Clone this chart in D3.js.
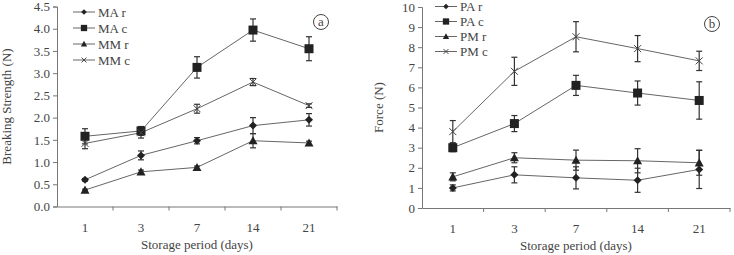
<!DOCTYPE html>
<html lang="en">
  <head>
    <meta charset="utf-8">
    <script src="https://d3js.org/d3.v7.min.js"></script>
    <style>
      body { margin: 0; background: #fff; }
      svg text { font-family: "Liberation Serif", "DejaVu Serif", serif; fill: #444; }
    </style>
  </head>
  <body>
    <svg id="chart" width="734" height="255"></svg>
    <script>
      // Storage days (categories)
      var days = ["1", "3", "7", "14", "21"];

      // Panel a: breaking strength
      var maR = [0.60, 1.15, 1.48, 1.82, 1.95];
      var maRErr = [0.03, 0.10, 0.07, 0.18, 0.14];
      var maC = [1.58, 1.70, 3.13, 3.97, 3.55];
      var maCErr = [0.17, 0.10, 0.24, 0.25, 0.27];
      var mmR = [0.37, 0.78, 0.88, 1.48, 1.43];
      var mmRErr = [0.02, 0.04, 0.03, 0.16, 0.04];
      var mmC = [1.42, 1.66, 2.20, 2.80, 2.27];
      var mmCErr = [0.12, 0.12, 0.10, 0.08, 0.04];
      var ticksA = [0, 0.5, 1, 1.5, 2, 2.5, 3, 3.5, 4, 4.5];

      // Panel b: force
      var paR = [1.00, 1.65, 1.50, 1.38, 1.92];
      var paRErr = [0.15, 0.40, 0.55, 0.60, 0.95];
      var paC = [3.00, 4.20, 6.10, 5.72, 5.35];
      var paCErr = [0.20, 0.40, 0.50, 0.60, 0.93];
      var pmR = [1.55, 2.50, 2.38, 2.35, 2.25];
      var pmRErr = [0.20, 0.25, 0.50, 0.60, 0.62];
      var pmC = [3.80, 6.80, 8.52, 7.93, 7.32];
      var pmCErr = [0.55, 0.70, 0.75, 0.65, 0.48];
      var ticksB = [0, 1, 2, 3, 4, 5, 6, 7, 8, 9, 10];

      var svg = d3.select("#chart");

      function drawPanel(p) {
        var g = svg.append("g");
        var x = d3.scaleBand().domain(days).range([p.x0, p.x1]);
        var y = d3.scaleLinear().domain([0, p.max]).range([p.y0, p.y1]);

        // lines and error bars first, markers on top
        p.series.forEach(function(s) {
          var pts = s.values.map(function(v, i) { return [x(days[i]) + x.bandwidth() / 2, y(v), s.err[i]]; });
          g.append("path")
            .attr("d", d3.line()(pts.map(function(d) { return [d[0], d[1]]; })))
            .attr("fill", "none").attr("stroke", "#666").attr("stroke-width", 1);
          pts.forEach(function(d, i) {
            var top = y(s.values[i] + d[2]), bot = y(s.values[i] - d[2]);
            g.append("line").attr("x1", d[0]).attr("x2", d[0]).attr("y1", top).attr("y2", bot)
              .attr("stroke", "#333").attr("stroke-width", 1.2);
            [top, bot].forEach(function(yy) {
              g.append("line").attr("x1", d[0] - 3).attr("x2", d[0] + 3).attr("y1", yy).attr("y2", yy)
                .attr("stroke", "#333").attr("stroke-width", 1.2);
            });
          });
        });
        p.series.forEach(function(s) {
          s.values.forEach(function(v, i) {
            drawMarker(g, s.shape, x(days[i]) + x.bandwidth() / 2, y(v), 1);
          });
        });

        // axes
        var yAxis = g.append("g").attr("transform", "translate(" + p.x0 + ",0)")
          .call(d3.axisLeft(y).tickValues(p.ticks).tickSize(4).tickPadding(3).tickFormat(p.fmt));
        var xAxis = g.append("g").attr("transform", "translate(0," + p.y0 + ")")
          .call(d3.axisBottom(x).tickSize(0).tickPadding(16));
        [yAxis, xAxis].forEach(function(a) {
          a.select(".domain").attr("stroke", "#777");
          a.selectAll(".tick line").attr("stroke", "#777");
          a.selectAll("text").attr("font-size", 13).attr("fill", "#444")
            .attr("font-family", "Liberation Serif, serif");
        });
        // category separators on the x axis
        g.selectAll(".sep").data(days).enter().append("line")
          .attr("x1", function(d) { return x(d) + x.bandwidth(); })
          .attr("x2", function(d) { return x(d) + x.bandwidth(); })
          .attr("y1", p.y0).attr("y2", p.y0 + 4).attr("stroke", "#777");

        g.append("text").attr("x", (p.x0 + p.x1) / 2).attr("y", p.y0 + 42)
          .attr("text-anchor", "middle").attr("font-size", 13).text("Storage period (days)");
        g.append("text").attr("transform", "translate(" + p.titleX + "," + ((p.y0 + p.y1) / 2) + ") rotate(-90)")
          .attr("text-anchor", "middle").attr("font-size", 13).text(p.title);

        // legend
        p.series.forEach(function(s, i) {
          var ly = p.legY + i * p.legStep;
          g.append("line").attr("x1", p.legX).attr("x2", p.legX + 22).attr("y1", ly).attr("y2", ly)
            .attr("stroke", "#666");
          drawMarker(g, s.shape, p.legX + 11, ly, 0.7);
          g.append("text").attr("x", p.legX + 25).attr("y", ly + 4.5).attr("font-size", 13).text(s.name);
        });

        // panel label
        g.append("circle").attr("cx", p.labX).attr("cy", p.labY).attr("r", 7.5)
          .attr("fill", "none").attr("stroke", "#444");
        g.append("text").attr("x", p.labX).attr("y", p.labY + 4).attr("text-anchor", "middle")
          .attr("font-size", 13).text(p.label);
      }

      function drawMarker(g, shape, cx, cy, k) {
        var c = "#222";
        if (shape === "diamond") {
          var r = 4 * k;
          g.append("path").attr("d", "M" + cx + "," + (cy - r) + "L" + (cx + r) + "," + cy + "L" + cx + "," + (cy + r) + "L" + (cx - r) + "," + cy + "Z").attr("fill", c);
        } else if (shape === "square") {
          var s = 9 * k;
          g.append("rect").attr("x", cx - s / 2).attr("y", cy - s / 2).attr("width", s).attr("height", s).attr("fill", c);
        } else if (shape === "triangle") {
          var t = 4.5 * k;
          g.append("path").attr("d", "M" + cx + "," + (cy - t) + "L" + (cx + t) + "," + (cy + t * 0.8) + "L" + (cx - t) + "," + (cy + t * 0.8) + "Z").attr("fill", c);
        } else {
          var u = 3.5 * k;
          g.append("path").attr("d", "M" + (cx - u) + "," + (cy - u) + "L" + (cx + u) + "," + (cy + u) + "M" + (cx - u) + "," + (cy + u) + "L" + (cx + u) + "," + (cy - u))
            .attr("stroke", "#444").attr("stroke-width", 1);
        }
      }

      drawPanel({
        x0: 57, x1: 337, y0: 206.5, y1: 6.5, max: 4.5, ticks: ticksA, fmt: d3.format(".1f"),
        title: "Breaking Strength (N)", titleX: 11, legX: 73, legY: 12, legStep: 16, labX: 321, labY: 22, label: "a",
        series: [
          { name: "MA r", values: maR, err: maRErr, shape: "diamond" },
          { name: "MA c", values: maC, err: maCErr, shape: "square" },
          { name: "MM r", values: mmR, err: mmRErr, shape: "triangle" },
          { name: "MM c", values: mmC, err: mmCErr, shape: "cross" }
        ]
      });

      drawPanel({
        x0: 422, x1: 730, y0: 208, y1: 7, max: 10, ticks: ticksB, fmt: d3.format("d"),
        title: "Force (N)", titleX: 383, legX: 435, legY: 6.5, legStep: 15, labX: 712, labY: 24, label: "b",
        series: [
          { name: "PA r", values: paR, err: paRErr, shape: "diamond" },
          { name: "PA c", values: paC, err: paCErr, shape: "square" },
          { name: "PM r", values: pmR, err: pmRErr, shape: "triangle" },
          { name: "PM c", values: pmC, err: pmCErr, shape: "cross" }
        ]
      });
    </script>
  </body>
</html>
